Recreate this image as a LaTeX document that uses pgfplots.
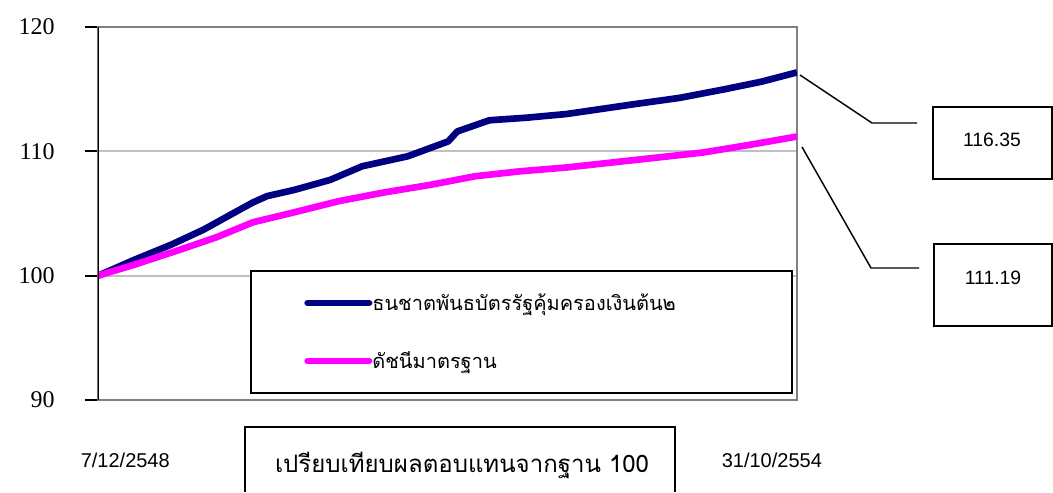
\documentclass[border=0pt]{standalone}
\usepackage{fontspec}
\usepackage{pgfplots}
\pgfplotsset{compat=1.18}
\setmainfont{Liberation Sans}
\newfontfamily\thai[Script=Thai]{Loma}
\newfontfamily\serifnum{Liberation Serif}
\definecolor{navy}{RGB}{0,0,128}
\definecolor{mag}{RGB}{255,0,255}
\definecolor{gridgray}{RGB}{192,192,192}
\definecolor{boxgray}{RGB}{128,128,128}
\begin{document}
\begin{tikzpicture}
\begin{axis}[
  at={(73.5pt,-300pt)}, anchor=south west,
  width=524.25pt, height=279.75pt, scale only axis,
  xmin=0, xmax=1, ymin=90, ymax=120,
  ytick={90,100,110,120},
  xtick={0.039,0.964},
  xticklabels={7/12/2548,31/10/2554},
  xtick style={draw=none},
  ytick pos=left,
  tick align=outside,
  major tick length=9.75pt,
  ytick style={black, line width=1.5pt},
  axis line style={boxgray, line width=1.5pt},
  ymajorgrids, grid style={gridgray, line width=1.5pt},
  /pgf/number format/assume math mode=true,
  yticklabel style={font=\serifnum\fontsize{18}{18}\selectfont, anchor=east, inner sep=0pt, xshift=-22.5pt},
  xticklabel style={font=\fontsize{15}{15}\selectfont, anchor=center, inner sep=0pt, yshift=-35.5pt},
  legend cell align=left,
  legend image code/.code={\draw[#1, line width=4.5pt, line cap=round] (0pt,0pt) -- (46.5pt,0pt);},
  legend style={at={(0.2175,0.3485)}, anchor=north west, draw=black, line width=1.5pt, fill=white,
    inner xsep=40pt, inner ysep=2.25pt, row sep=0pt, column sep=0pt,
    nodes={inner sep=0pt, minimum height=43.5pt, anchor=west},
    font=\thai\fontsize{15}{17}\selectfont},
]
\addplot[navy, line width=5pt, line join=round] coordinates {
(0,100.0) (0.053,101.3) (0.105,102.5) (0.151,103.7) (0.196,105.1) (0.222,105.9)
(0.242,106.4) (0.281,106.9) (0.332,107.7) (0.378,108.8) (0.443,109.6) (0.501,110.8)
(0.514,111.6) (0.560,112.5) (0.612,112.7) (0.670,113.0) (0.768,113.8) (0.832,114.3)
(0.897,115.0) (0.949,115.6) (1.0,116.35)
};
\addlegendentry{\makebox[275pt][l]{ธนชาตพันธบัตรรัฐคุ้มครองเงินต้น๒}}
\addplot[mag, line width=5pt, line join=round] coordinates {
(0,100.0) (0.053,100.9) (0.118,102.1) (0.170,103.1) (0.222,104.3) (0.281,105.1)
(0.345,106.0) (0.410,106.7) (0.475,107.3) (0.540,108.0) (0.605,108.4) (0.670,108.7)
(0.735,109.1) (0.800,109.5) (0.865,109.9) (0.930,110.5) (1.0,111.19)
};
\addlegendentry{\makebox[275pt][l]{ดัชนีมาตรฐาน}}
\draw[black, line width=1.5pt] (rel axis cs:0,0) -- (rel axis cs:0,1);
\end{axis}
\begin{scope}[x=0.75pt,y=-0.75pt]
\draw[black, line width=1.1pt] (800,75) -- (872,123) -- (917,123);
\draw[black, line width=1.1pt] (802,147) -- (871,268) -- (919,268);
\draw[black, line width=1.1pt] (933,107) rectangle (1052,179);
\draw[black, line width=1.1pt] (934,244) rectangle (1052,326);
\node[font=\fontsize{14.5}{15}\selectfont] at (992,140) {116.35};
\node[font=\fontsize{14.5}{15}\selectfont] at (993,278) {111.19};
\draw[black, line width=1.1pt] (245,492) -- (245,427) -- (675,427) -- (675,492);
\node[font=\thai\fontsize{18}{22}\selectfont] at (462,465) {เปรียบเทียบผลตอบแทนจากฐาน 100};
\path[use as bounding box] (0,0) rectangle (1053,492);
\end{scope}
\end{tikzpicture}
\end{document}
